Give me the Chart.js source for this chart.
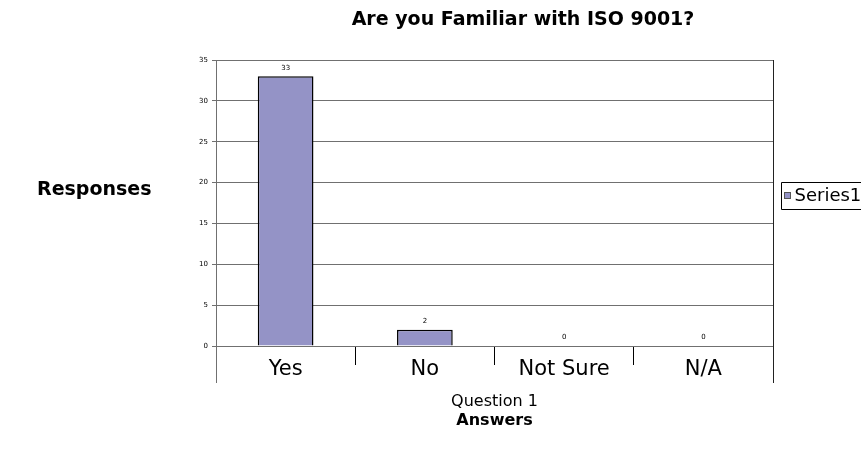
<!DOCTYPE html>
<html>
<head>
<meta charset="utf-8">
<script src="https://cdn.jsdelivr.net/npm/chart.js@4.4.1/dist/chart.umd.min.js"></script>
<style>
  html, body { margin: 0; padding: 0; background: #fff; }
  #wrap { width: 861px; height: 458px; position: relative; }
</style>
</head>
<body>
<div id="wrap"><canvas id="chart" width="861" height="458"></canvas></div>
<script>
const categories = ["Yes", "No", "Not Sure", "N/A"]
const responses = [33, 2, 0, 0]
const seriesName = "Series1"
const chartTitle = "Are you Familiar with ISO 9001?"
const yTitle = "Responses"
const xTitle = ["Question 1", "Answers"]

const FONT = "'DejaVu Sans', sans-serif"
const BAR_FILL = "#9493c6"

// text and frame pieces that Chart.js has no slot for
const decorations = {
  id: "decorations",
  afterDatasetsDraw(chart) {
    const { ctx } = chart
    const meta = chart.getDatasetMeta(0)
    ctx.save()
    ctx.fillStyle = "#000"
    ctx.textAlign = "center"
    ctx.textBaseline = "bottom"
    ctx.font = "7px " + FONT
    meta.data.forEach((bar, i) => {
      ctx.fillText(String(responses[i]), bar.x, bar.y - 5)
    })
    ctx.restore()
  },
  afterDraw(chart) {
    const { ctx, chartArea } = chart
    const midX = (chartArea.left + chartArea.right) / 2
    ctx.save()
    // right border of the plot and outer separators below the axis
    ctx.strokeStyle = "#222"
    ctx.lineWidth = 1
    ctx.beginPath()
    ctx.moveTo(Math.round(chartArea.right) + 0.5, chartArea.top)
    ctx.lineTo(Math.round(chartArea.right) + 0.5, chartArea.bottom + 37)
    ctx.stroke()
    ctx.strokeStyle = "#707070"
    ctx.beginPath()
    ctx.moveTo(Math.round(chartArea.left) + 0.5, chartArea.bottom)
    ctx.lineTo(Math.round(chartArea.left) + 0.5, chartArea.bottom + 37)
    ctx.stroke()

    ctx.fillStyle = "#000"
    ctx.textBaseline = "middle"
    ctx.textAlign = "center"
    ctx.font = "bold 19px " + FONT
    ctx.fillText(chartTitle, 523, 20)

    ctx.textAlign = "left"
    ctx.font = "bold 19px " + FONT
    ctx.fillText(yTitle, 37, 190)

    ctx.textAlign = "center"
    ctx.font = "16px " + FONT
    ctx.fillText(xTitle[0], midX, 402)
    ctx.font = "bold 16px " + FONT
    ctx.fillText(xTitle[1], midX, 421)

    // legend box
    const lx = 781.5, ly = 182.5
    ctx.strokeStyle = "#000"
    ctx.beginPath()
    ctx.moveTo(861, ly)
    ctx.lineTo(lx, ly)
    ctx.lineTo(lx, ly + 27)
    ctx.lineTo(861, ly + 27)
    ctx.stroke()
    ctx.fillStyle = BAR_FILL
    ctx.fillRect(lx + 3, ly + 10, 6, 6)
    ctx.strokeStyle = "#555"
    ctx.strokeRect(lx + 3, ly + 10, 6, 6)
    ctx.fillStyle = "#000"
    ctx.textAlign = "left"
    ctx.font = "18px " + FONT
    ctx.fillText(chart.data.datasets[0].label, lx + 13, ly + 14)
    ctx.restore()
  }
}

new Chart(document.getElementById("chart"), {
  type: "bar",
  data: {
    labels: categories,
    datasets: [{
      label: seriesName,
      data: responses,
      backgroundColor: BAR_FILL,
      borderColor: "#000",
      borderWidth: 1.5,
      categoryPercentage: 0.4,
      barPercentage: 1
    }]
  },
  options: {
    responsive: false,
    animation: false,
    layout: { padding: { top: 60, right: 88, bottom: 0, left: 0 } },
    plugins: {
      legend: { display: false },
      tooltip: { enabled: false },
      title: { display: false }
    },
    scales: {
      y: {
        min: 0,
        max: 35,
        ticks: { stepSize: 5, color: "#000", font: { size: 7, family: FONT }, padding: 4 },
        grid: { color: "#707070", tickLength: 4 },
        border: { color: "#707070" },
        afterFit: (scale) => { scale.width = 216 }
      },
      x: {
        offset: true,
        ticks: { color: "#000", font: { size: 21, family: FONT }, padding: -8 },
        grid: { offset: true, drawOnChartArea: false, color: "#000", tickLength: 19 },
        border: { color: "#707070" },
        afterFit: (scale) => { scale.height = 112 }
      }
    }
  },
  plugins: [decorations]
})
</script>
</body>
</html>
